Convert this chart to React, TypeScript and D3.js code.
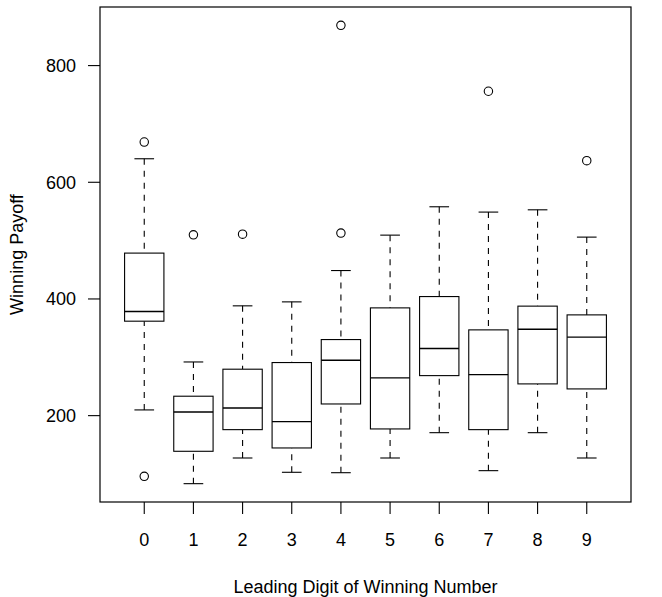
import React from "react";
import * as d3 from "d3";

// Leading digit categories
const digits = ["0", "1", "2", "3", "4", "5", "6", "7", "8", "9"];

// Five-number summaries per digit (whisker ends, quartiles, median)
const lowerWhisker = [209.8, 83.4, 127.4, 102.9, 102.2, 127.4, 170.8, 105.7, 170.8, 127.4];
const q1 = [361.9, 138.9, 176, 144.6, 220, 177.2, 268.6, 176, 254.4, 245.8];
const median = [378.4, 206.3, 213.2, 189.7, 295, 264.7, 315, 270.3, 348.2, 334.5];
const q3 = [478.6, 233.3, 279.6, 291, 330.4, 384.7, 404.1, 347, 387.7, 372.7];
const upperWhisker = [640.3, 292, 388.2, 395, 448.7, 509.4, 558, 548.9, 552.8, 506];

// Outlying payoffs (digit index, value)
const outlierDigit = [0, 0, 1, 2, 4, 4, 7, 9];
const outlierValue = [669, 96, 510, 511, 869, 513, 756, 637];

const yTicks = [200, 400, 600, 800];

const W = 662;
const H = 597;
const left = 100;
const right = 631;
const top = 7;
const bottom = 502;
const FONT = "'Liberation Sans', Arial, Helvetica, sans-serif";
const FS = 18;

export default function App() {
  const allVals = [...lowerWhisker, ...upperWhisker, ...outlierValue];
  const lo = d3.min(allVals) as number;
  const hi = d3.max(allVals) as number;
  const pad = (hi - lo) * 0.04;
  const y = d3.scaleLinear().domain([lo - pad, hi + pad]).range([bottom, top]);
  const n = digits.length;
  const xPad = n * 0.04;
  const x = d3.scaleLinear().domain([0.5 - xPad, n + 0.5 + xPad]).range([left, right]);
  const unit = x(2) - x(1);
  const boxHalf = unit * 0.4;
  const stapleHalf = unit * 0.2;

  return (
    <svg
      width={W}
      height={H}
      style={{ position: "absolute", left: 0, top: 0, background: "#fff" }}
      fontFamily={FONT}
    >
      <rect x={0} y={0} width={W} height={H} fill="#fff" />
      {digits.map((d, i) => {
        const cx = x(i + 1);
        return (
          <g key={d} stroke="#000" strokeWidth={1.1} fill="none">
            <line
              x1={cx}
              x2={cx}
              y1={y(lowerWhisker[i])}
              y2={y(q1[i])}
              strokeDasharray="6,6"
            />
            <line
              x1={cx}
              x2={cx}
              y1={y(upperWhisker[i])}
              y2={y(q3[i])}
              strokeDasharray="6,6"
            />
            <line x1={cx - stapleHalf} x2={cx + stapleHalf} y1={y(lowerWhisker[i])} y2={y(lowerWhisker[i])} />
            <line x1={cx - stapleHalf} x2={cx + stapleHalf} y1={y(upperWhisker[i])} y2={y(upperWhisker[i])} />
            <rect
              x={cx - boxHalf}
              y={y(q3[i])}
              width={boxHalf * 2}
              height={y(q1[i]) - y(q3[i])}
              fill="#fff"
            />
            <line x1={cx - boxHalf} x2={cx + boxHalf} y1={y(median[i])} y2={y(median[i])} strokeWidth={1.4} />
          </g>
        );
      })}
      {outlierValue.map((v, k) => (
        <circle
          key={k}
          cx={x(outlierDigit[k] + 1)}
          cy={y(v)}
          r={4.2}
          fill="none"
          stroke="#000"
          strokeWidth={1.1}
        />
      ))}
      {/* plot frame */}
      <rect x={left} y={top} width={right - left} height={bottom - top} fill="none" stroke="#000" strokeWidth={1.2} />
      {/* x axis */}
      {digits.map((d, i) => (
        <g key={"xt" + d}>
          <line x1={x(i + 1)} x2={x(i + 1)} y1={bottom} y2={bottom + 12} stroke="#000" strokeWidth={1.1} />
          <text x={x(i + 1)} y={546} textAnchor="middle" fontSize={FS} fill="#000">
            {d}
          </text>
        </g>
      ))}
      {/* y axis */}
      {yTicks.map((t) => (
        <g key={"yt" + t}>
          <line x1={left - 12} x2={left} y1={y(t)} y2={y(t)} stroke="#000" strokeWidth={1.1} />
          <text x={76} y={y(t) + 6.4} textAnchor="end" fontSize={FS} fill="#000">
            {t}
          </text>
        </g>
      ))}
      <text x={(left + right) / 2} y={593} textAnchor="middle" fontSize={FS} fill="#000">
        Leading Digit of Winning Number
      </text>
      <text
        transform={`translate(23, ${(top + bottom) / 2}) rotate(-90)`}
        textAnchor="middle"
        fontSize={FS}
        fill="#000"
      >
        Winning Payoff
      </text>
    </svg>
  );
}
